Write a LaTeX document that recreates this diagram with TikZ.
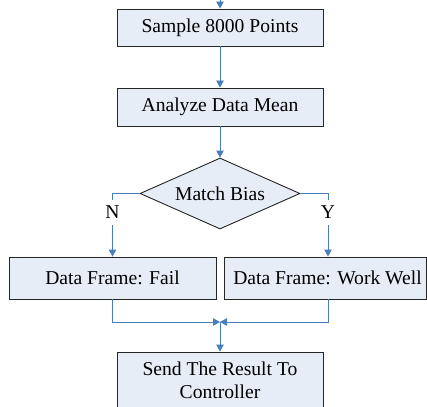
\documentclass[tikz,border=0pt]{standalone}
\usepackage{fontspec}
\setmainfont{Liberation Serif}
\usetikzlibrary{arrows.meta,shapes.geometric}
\definecolor{boxfill}{HTML}{E7EDF7}
\definecolor{linkblue}{HTML}{4A7EBB}
\begin{document}
\begin{tikzpicture}[x=1pt,y=1pt,
  font=\fontsize{19.6}{23}\selectfont,
  stepbox/.style={draw=black!85, line width=0.9pt, fill=boxfill, rectangle, inner sep=0pt, align=center},
  decision/.style={draw=black!85, line width=0.9pt, fill=boxfill, diamond, aspect=2.25, inner sep=0pt, minimum width=160pt, minimum height=71pt},
  arr/.style={draw=linkblue, line width=0.9pt, -{Triangle[width=7.5pt,length=7pt]}},
  lbl/.style={fill=white, inner xsep=1pt, inner ysep=6pt}
]
\clip (0,0) rectangle (427,-406);
\node[stepbox, minimum width=206pt, minimum height=37pt] (b1) at (220,-27.5) {Sample 8000 Points};
\node[stepbox, minimum width=206pt, minimum height=38pt] (b2) at (220,-107) {Analyze Data Mean};
\node[decision] (d) at (220,-193.5) {Match Bias};
\node[stepbox, minimum width=207pt, minimum height=42pt] (bl) at (112.5,-278) {Data Frame: Fail};
\node[stepbox, minimum width=202pt, minimum height=42pt] (br) at (325,-278) {\hspace*{5pt}Data Frame: Work Well};
\node[stepbox, minimum width=206pt, minimum height=56pt, text depth=0pt] (bf) at (220,-380) {Send The Result To\\Controller};
\coordinate (top) at (220,0);
\coordinate (m) at (220,-322);
\draw[arr] (top) -- (b1);
\draw[arr] (b1) -- (b2);
\draw[arr] (b2) -- (d);
\draw[arr] (d.west) -| node[lbl, pos=0.65] {N} (bl.north);
\draw[arr] (d.east) -| node[lbl, pos=0.65] {Y} ([xshift=3pt]br.north);
\draw[arr] (bl.south) |- (m);
\draw[arr] ([xshift=3pt]br.south) |- (m);
\draw[arr] (m) -- (bf.north);
\end{tikzpicture}
\end{document}
